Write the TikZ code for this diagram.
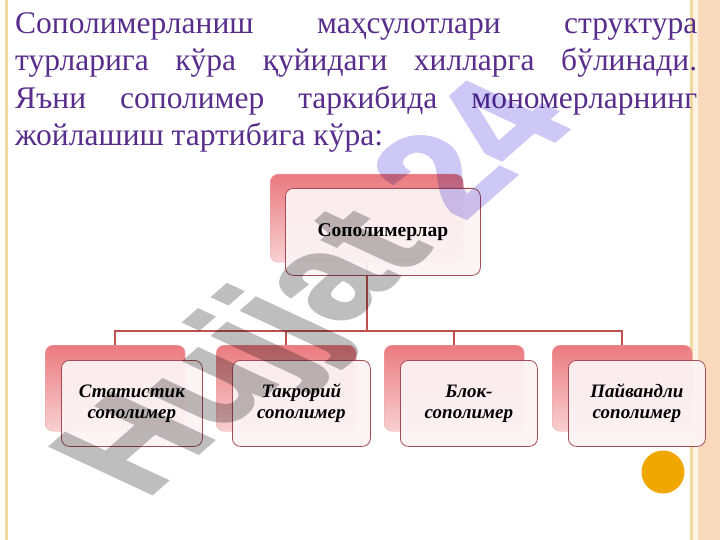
\documentclass[tikz,border=0pt]{standalone}
\usepackage{fontspec}
\setmainfont{Liberation Serif}
\newfontfamily\wmfont[BoldFont={Liberation Sans Bold},BoldFeatures={FakeBold=2}]{Liberation Sans}
\usetikzlibrary{calc}
\definecolor{txtpurple}{RGB}{88,45,140}
\definecolor{linered}{RGB}{192,80,80}
\definecolor{frameborder}{RGB}{165,75,85}
\definecolor{backtop}{RGB}{234,122,127}
\definecolor{backbot}{RGB}{248,208,210}
\definecolor{frontfill}{RGB}{252,243,244}
\definecolor{stripline}{RGB}{241,218,160}
\definecolor{peach}{RGB}{249,217,188}
\definecolor{lightcream}{RGB}{253,242,228}
\definecolor{orangedot}{RGB}{240,168,0}
\definecolor{wmgrey}{RGB}{190,190,190}
\definecolor{wmlav}{RGB}{206,200,246}
\tikzset{
  toptext/.style={anchor=base west, inner sep=0pt, text=txtpurple,
    font=\fontsize{31.5}{37}\selectfont},
  backbox/.style={anchor=north west, inner sep=0pt, rounded corners=8pt,
    top color=backtop, bottom color=backbot, draw=backtop!70!white, line width=0.4pt},
  frontbox/.style={anchor=north west, inner sep=0pt, rounded corners=8pt,
    fill=frontfill, fill opacity=0.93, text opacity=1, draw=frameborder, line width=0.8pt,
    align=center, text=black},
  rootfont/.style={font=\bfseries\fontsize{19.5}{22}\selectfont},
  childfont/.style={font=\bfseries\itshape\fontsize{19}{21}\selectfont},
  conn/.style={draw=linered, line width=1.6pt},
  wmtext/.style={anchor=base west, inner sep=0pt, transform shape,
    font=\wmfont\bfseries\fontsize{100}{100}\selectfont}
}
\begin{document}
\begin{tikzpicture}[x=1pt,y=-1pt]
\useasboundingbox (0,0) rectangle (720,540);
\fill[white] (0,0) rectangle (720,540);
% side strips
\fill[stripline] (5,0) rectangle (7.5,540);
\fill[lightcream] (690,0) rectangle (720,540);
\fill[stripline] (689.5,0) rectangle (693,540);
\fill[peach] (698,0) rectangle (720,540);

% boxes (back)
\node[backbox, minimum width=193pt, minimum height=88pt] (rb) at (270,174) {};
\node[backbox, minimum width=140pt, minimum height=86pt] (cb1) at (45,345) {};
\node[backbox, minimum width=140pt, minimum height=86pt] (cb2) at (216,345) {};
\node[backbox, minimum width=140pt, minimum height=86pt] (cb3) at (384,345) {};
\node[backbox, minimum width=140pt, minimum height=86pt] (cb4) at (552,345) {};

% connectors
\coordinate (bus) at (367,331);
\foreach \c in {cb1,cb2,cb3,cb4}
  \draw[conn] (rb.south) -- (rb.south |- bus) -| (\c.north);

% boxes (front)
\node[frontbox, rootfont, minimum width=195pt, minimum height=87pt] (rf) at (285,188) {Сополимерлар};
\node[frontbox, childfont, minimum width=141pt, minimum height=86pt] (cf1) at (61,360) {Статистик\\сополимер};
\node[frontbox, childfont, minimum width=138pt, minimum height=86pt] (cf2) at (232,360) {Такрорий\\сополимер};
\node[frontbox, childfont, minimum width=137pt, minimum height=86pt] (cf3) at (400,360) {Блок-\\сополимер};
\node[frontbox, childfont, minimum width=137pt, minimum height=86pt] (cf4) at (568,360) {Пайвандли\\сополимер};

% top text
\node[toptext] (l1) at (15,34) {\makebox[682pt][s]{Сополимерланиш маҳсулотлари структура}};
\node[toptext] (l2) at (15,71) {\makebox[682pt][s]{турларига кўра қуйидаги хилларга бўлинади.}};
\node[toptext] (l3) at (15,108.5) {\makebox[682pt][s]{Яъни сополимер таркибида мономерларнинг}};
\node[toptext] (l4) at (15,146) {жойлашиш тартибига кўра:};

% orange dot
\fill[orangedot] (663,472) circle (21.5);

% watermark
\begin{scope}[blend mode=multiply]
 \begin{scope}[transparency group]
  \begin{scope}[blend mode=normal, shift={(145,500)}, cm={1.04,0.91,-1.477,0.688,(0,0)}]
   \node[wmtext] (wm) at (0,0) {\textcolor{wmgrey}{Hujjat} \textcolor{wmlav}{24}};
  \end{scope}
 \end{scope}
\end{scope}
\end{tikzpicture}
\end{document}
